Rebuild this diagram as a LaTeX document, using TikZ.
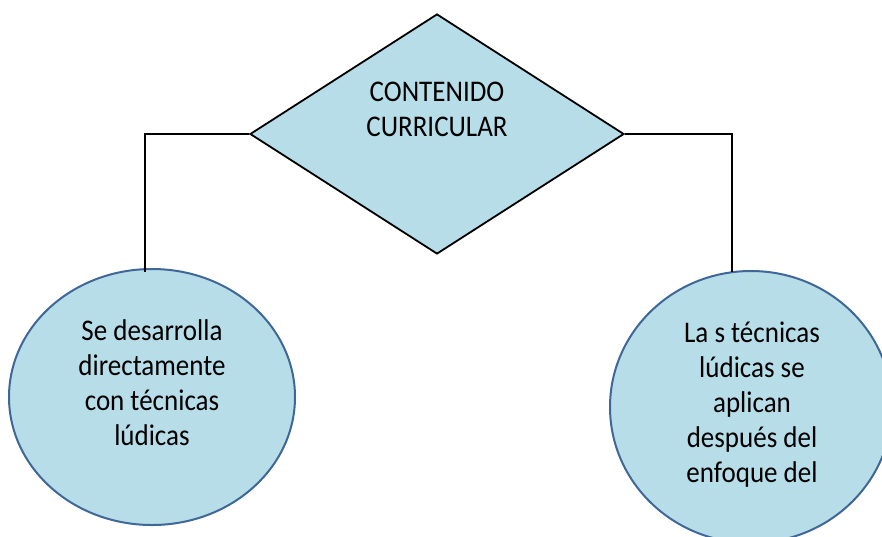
\documentclass[tikz,border=0pt]{standalone}
\usepackage{fontspec}
\setmainfont{Carlito}[FakeStretch=0.9]
\usetikzlibrary{shapes.geometric}
\definecolor{fillblue}{HTML}{B7DDE8}
\definecolor{edgeblue}{HTML}{3F6797}
\tikzset{
  shapefill/.style={fill=fillblue, inner sep=0pt},
  diam/.style={shapefill, draw=black, line width=1.8pt, diamond},
  ell/.style={shapefill, draw=edgeblue, line width=2pt, ellipse},
  txt/.style={align=center, inner sep=0pt, font=\fontsize{30}{35}\selectfont, anchor=north},
  conn/.style={draw=black, line width=1.3pt}
}
\begin{document}
\begin{tikzpicture}[x=1pt,y=-1pt]
\useasboundingbox (0,0) rectangle (882,536);
\node[diam, minimum width=374pt, minimum height=240pt] (d) at (437,134) {};
\node[txt] (dt) at (437,82) {CONTENIDO\\CURRICULAR};
\node[ell, minimum width=286pt, minimum height=256pt] (l) at (152,397) {};
\node[txt] (lt) at (152,319) {Se desarrolla\\directamente\\con técnicas\\lúdicas};
\node[ell, minimum width=282pt, minimum height=272pt] (r) at (751,407) {};
\node[txt] (rt) at (752,322) {La s técnicas\\lúdicas se\\aplican\\después del\\enfoque del};
\coordinate (la) at (145,272);
\coordinate (ra) at (732,272);
\draw[conn] (d.west) -| (la);
\draw[conn] (d.east) -| (ra);
\end{tikzpicture}
\end{document}
